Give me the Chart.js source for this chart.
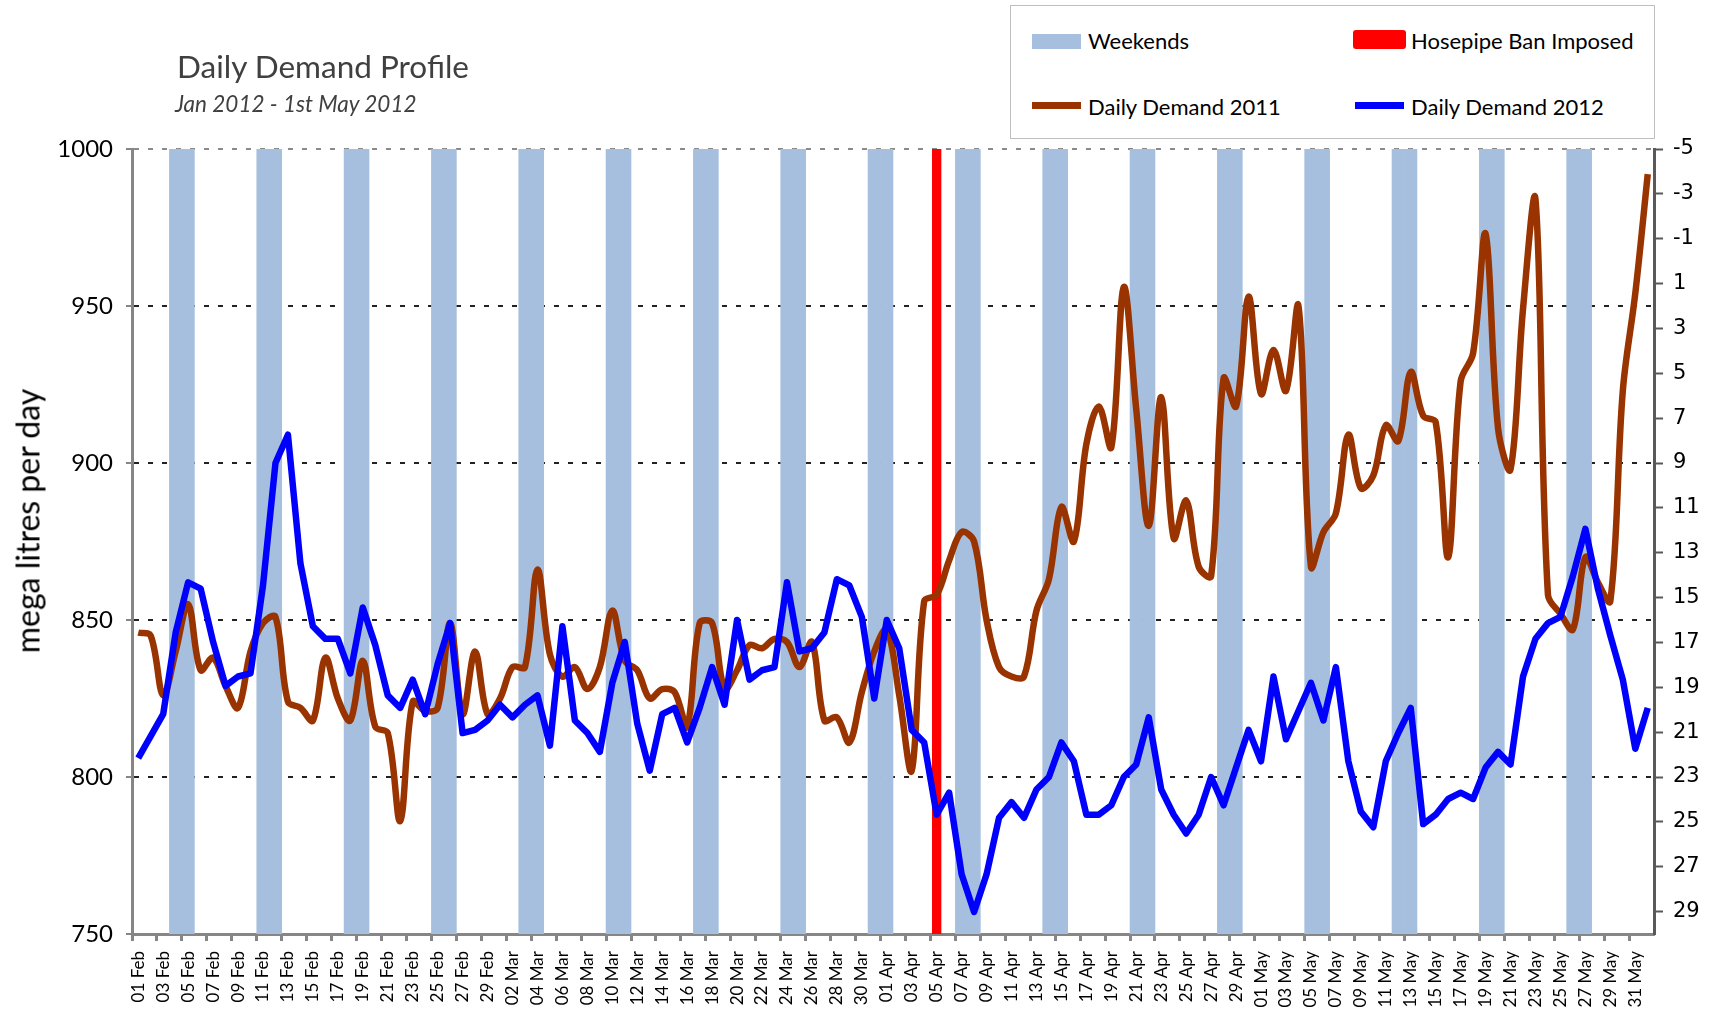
<!DOCTYPE html>
<html>
<head>
<meta charset="utf-8">
<title>Daily Demand Profile</title>
<script src="https://cdn.jsdelivr.net/npm/chart.js@4.4.1/dist/chart.umd.min.js"></script>
<style>
  html, body { margin: 0; padding: 0; background: #fff; }
  #wrap { position: relative; width: 1713px; height: 1009px; font-family: Lato, 'Open Sans', sans-serif; overflow: hidden; }
  #demandChart { position: absolute; left: 0; top: 0; }
  .title { position: absolute; left: 177px; top: 47px; font-size: 31.5px; color: #404040; white-space: nowrap; }
  .subtitle { position: absolute; left: 175px; top: 90px; font-size: 22.5px; font-style: italic; color: #404040; white-space: nowrap; }
  .ytitle { position: absolute; left: 27px; top: 521px; transform: translate(-50%, -50%) rotate(-90deg); font-size: 32px; color: #000; white-space: nowrap; }
  .legend { position: absolute; left: 1010px; top: 5px; width: 645px; height: 134px; border: 1px solid #bfbfbf; box-sizing: border-box; background: #fff; }
  .item { position: absolute; font-size: 22px; color: #000; white-space: nowrap; line-height: 26px; }
  .sw { position: absolute; }
</style>
</head>
<body>
<div id="wrap">
  <canvas id="demandChart" width="1713" height="1009"></canvas>
  <div class="title">Daily Demand Profile</div>
  <div class="subtitle">Jan 2012 - 1st May 2012</div>
  <div class="ytitle">mega litres per day</div>
  <div class="legend">
    <div class="sw" style="left:21px;top:28px;width:49px;height:15px;background:#A7BFDE"></div>
    <div class="item" style="left:77px;top:22px">Weekends</div>
    <div class="sw" style="left:342px;top:24px;width:53px;height:19px;background:#FF0000;border-radius:3px"></div>
    <div class="item" style="left:400px;top:22px">Hosepipe Ban Imposed</div>
    <div class="sw" style="left:21px;top:96px;width:49px;height:7px;background:#993300"></div>
    <div class="item" style="left:77px;top:88px">Daily Demand 2011</div>
    <div class="sw" style="left:344px;top:96px;width:49px;height:7px;background:#0000FF"></div>
    <div class="item" style="left:400px;top:88px">Daily Demand 2012</div>
  </div>
</div>
<script>
// -- categories: every day from 01 Feb to 01 Jun --
const monthDays = [['Feb', 29], ['Mar', 31], ['Apr', 30], ['May', 31], ['Jun', 1]];
const labels = [];
monthDays.forEach(([m, n]) => {
  for (let d = 1; d <= n; d++) labels.push(String(d).padStart(2, '0') + ' ' + m);
});

// -- series (mega litres per day) --
const demand2012 = [
  806, 813, 820, 846, 862, 860, 843, 829, 832, 833, 861, 900, 909, 868, 848, 844, 844, 833, 854, 842, 826, 822, 831, 820, 836, 849, 814, 815, 818,
  823, 819, 823, 826, 810, 848, 818, 814, 808, 830, 843, 817, 802, 820, 822, 811, 822, 835, 823, 850, 831, 834, 835, 862, 840, 841, 846, 863, 861, 851, 825,
  850, 841, 815, 811, 788, 795, 769, 757, 769, 787, 792, 787, 796, 800, 811, 805, 788, 788, 791, 800, 804, 819, 796, 788, 782, 788, 800, 791, 803, 815,
  805, 832, 812, 821, 830, 818, 835, 805, 789, 784, 805, 814, 822, 785, 788, 793, 795, 793, 803, 808, 804, 832, 844, 849, 851, 864, 879, 860, 845, 831, 809,
  822
];
const demand2011 = [
  846, 845, 826, 840, 855, 834, 838, 829, 822, 840, 849, 851, 824, 822, 818, 838, 825, 818, 837, 816, 814, 786, 824, 821, 822, 849, 820, 840, 820,
  825, 835, 835, 866, 839, 832, 835, 828, 835, 853, 837, 834, 825, 828, 827, 816, 849, 849, 828, 834, 842, 841, 844, 843, 835, 843, 818, 819, 811, 827, 840,
  847, 826, 802, 856, 858, 869, 878, 875, 850, 835, 832, 832, 853, 863, 886, 875, 906, 918, 905, 956, 917, 880, 921, 876, 888, 867, 864, 927, 918, 953,
  922, 936, 923, 950, 867, 878, 884, 909, 892, 896, 912, 907, 929, 915, 913, 870, 926, 935, 973, 911, 898, 949, 984, 858, 852, 847, 870, 862, 856, 923, 954,
  992
];

const weekendDays = [
  '04 Feb', '05 Feb', '11 Feb', '12 Feb', '18 Feb', '19 Feb', '25 Feb', '26 Feb',
  '03 Mar', '04 Mar', '10 Mar', '11 Mar', '17 Mar', '18 Mar', '24 Mar', '25 Mar', '31 Mar',
  '01 Apr', '07 Apr', '08 Apr', '14 Apr', '15 Apr', '21 Apr', '22 Apr', '28 Apr', '29 Apr',
  '05 May', '06 May', '12 May', '13 May', '19 May', '20 May', '26 May', '27 May'
];
const banDay = '05 Apr';

const leftTicks = [750, 800, 850, 900, 950, 1000];
const rightTicks = [-5, -3, -1, 1, 3, 5, 7, 9, 11, 13, 15, 17, 19, 21, 23, 25, 27, 29];

const AXIS_GREY = '#868686';

new Chart(document.getElementById('demandChart'), {
  data: {
    labels,
    datasets: [
      {
        type: 'line',
        label: 'Daily Demand 2012',
        data: demand2012,
        borderColor: '#0000FF',
        borderWidth: 6.5,
        borderJoinStyle: 'round',
        pointRadius: 0,
        tension: 0,
        order: 0,
      },
      {
        type: 'line',
        label: 'Daily Demand 2011',
        data: demand2011,
        borderColor: '#993300',
        borderWidth: 6.5,
        borderJoinStyle: 'round',
        pointRadius: 0,
        tension: 0.35,
        order: 1,
      },
      {
        type: 'bar',
        label: 'Hosepipe Ban Imposed',
        data: labels.map(l => (l === banDay ? 1000 : null)),
        backgroundColor: '#FF0000',
        barPercentage: 0.75,
        categoryPercentage: 1,
        grouped: false,
        order: 2,
      },
      {
        type: 'bar',
        label: 'Weekends',
        data: labels.map(l => (weekendDays.includes(l) ? 1000 : null)),
        backgroundColor: '#A7BFDE',
        barPercentage: 1,
        categoryPercentage: 1,
        grouped: false,
        order: 3,
      },
    ],
  },
  options: {
    responsive: false,
    animation: false,
    devicePixelRatio: 1,
    layout: { padding: { top: 149, left: 0, right: 0, bottom: 0 } },
    plugins: {
      legend: { display: false },
      tooltip: { enabled: true },
    },
    scales: {
      x: {
        type: 'category',
        offset: true,
        grid: {
          drawOnChartArea: false,
          offset: true,
          tickLength: 7,
          tickWidth: 3,
          tickColor: ctx => (ctx.index % 2 === 0 ? AXIS_GREY : 'rgba(0,0,0,0)'),
        },
        border: { color: AXIS_GREY, width: 3 },
        ticks: {
          autoSkip: false,
          maxRotation: 90,
          minRotation: 90,
          padding: 10,
          color: '#000',
          font: { family: 'Lato', size: 17 },
          callback: (v, i) => (i % 2 === 0 ? labels[i] : ''),
        },
        afterFit: s => { s.height = 75; },
      },
      y: {
        position: 'left',
        min: 750,
        max: 1000,
        afterBuildTicks: s => { s.ticks = leftTicks.map(v => ({ value: v })); },
        grid: {
          color: ctx => (ctx.tick && ctx.tick.value === 1000 ? '#8a8a8a' : '#222'),
          lineWidth: 2,
          tickLength: 6,
          tickColor: AXIS_GREY,
          tickWidth: 2,
          tickBorderDash: [],
        },
        border: { color: AXIS_GREY, width: 3, dash: [5, 9] },
        ticks: {
          color: '#000',
          padding: 13,
          font: { family: 'Lato', size: 24 },
          callback: v => String(v),
        },
        afterFit: s => { s.width = 132; },
      },
      y2: {
        position: 'right',
        reverse: true,
        min: -5,
        max: 30,
        afterBuildTicks: s => { s.ticks = rightTicks.map(v => ({ value: v })); },
        grid: {
          drawOnChartArea: false,
          tickLength: 9,
          tickColor: '#595959',
          tickWidth: 2,
        },
        border: { color: '#595959', width: 3 },
        ticks: { color: '#000', padding: 10, font: { family: 'DejaVu Sans', size: 21 } },
        afterFit: s => { s.width = 59; },
      },
    },
  },
});
</script>
</body>
</html>
